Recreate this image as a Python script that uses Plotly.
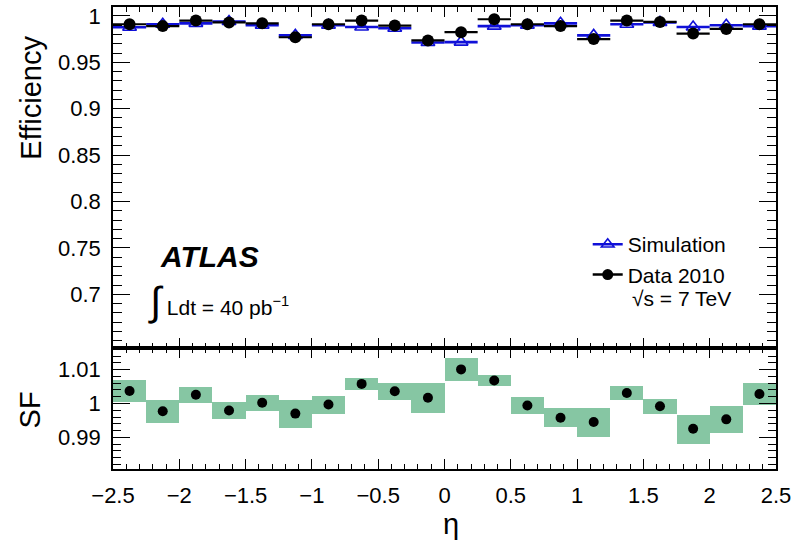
import plotly.graph_objects as go

eta_centers = [-2.375, -2.125, -1.875, -1.625, -1.375, -1.125, -0.875, -0.625, -0.375, -0.125,
               0.125, 0.375, 0.625, 0.875, 1.125, 1.375, 1.625, 1.875, 2.125, 2.375]
bin_halfwidth = [0.125] * 20

eff_data = [0.991, 0.989, 0.995, 0.993, 0.992, 0.977, 0.991, 0.995, 0.9896, 0.9736,
            0.9825, 0.9964, 0.991, 0.989, 0.975, 0.995, 0.9935, 0.981, 0.986, 0.991]
eff_sim = [0.9878, 0.991, 0.992, 0.994, 0.990, 0.979, 0.990, 0.988, 0.9867, 0.9714,
           0.9718, 0.989, 0.990, 0.992, 0.979, 0.991, 0.993, 0.988, 0.990, 0.989]

sf = [1.0037, 0.9977, 1.0026, 0.9979, 1.0002, 0.9970, 0.9997, 1.0058, 1.0036, 1.0017,
      1.0101, 1.0068, 0.9994, 0.9958, 0.9945, 1.0031, 0.9992, 0.9925, 0.9953, 1.0028]
sf_err = [0.0033, 0.0034, 0.0024, 0.0025, 0.0025, 0.0041, 0.0026, 0.0018, 0.0024, 0.0045,
          0.0034, 0.0016, 0.0025, 0.0028, 0.0043, 0.0021, 0.0023, 0.0043, 0.0039, 0.0032]

eff_tickvals = [0.7, 0.75, 0.8, 0.85, 0.9, 0.95, 1.0]
eff_ticktext = ["0.7", "0.75", "0.8", "0.85", "0.9", "0.95", "1"]
sf_tickvals = [0.99, 1.0, 1.01]
sf_ticktext = ["0.99", "1", "1.01"]
x_tickvals = [-2.5, -2, -1.5, -1, -0.5, 0, 0.5, 1, 1.5, 2, 2.5]
x_ticktext = ["\u22122.5", "\u22122", "\u22121.5", "\u22121", "\u22120.5", "0", "0.5", "1", "1.5", "2", "2.5"]

BLUE = "#1010d8"
GREEN = "#86c6a3"
FONT = "Liberation Sans"

fig = go.Figure()

# Simulation
fig.add_trace(go.Scatter(
    x=eta_centers, y=eff_sim, mode="markers", showlegend=False,
    marker=dict(symbol="triangle-up-open", size=12, color=BLUE, line=dict(width=1.6, color=BLUE)),
    error_x=dict(type="data", array=bin_halfwidth, width=0, thickness=2.6, color=BLUE),
    xaxis="x", yaxis="y"))
# Data
fig.add_trace(go.Scatter(
    x=eta_centers, y=eff_data, mode="markers", showlegend=False,
    marker=dict(symbol="circle", size=12, color="black"),
    error_x=dict(type="data", array=bin_halfwidth, width=0, thickness=2.2, color="black"),
    xaxis="x", yaxis="y"))

# legend entries
fig.add_trace(go.Scatter(x=[None], y=[None], mode="lines+markers", name="Simulation",
                         line=dict(color=BLUE, width=2.5),
                         marker=dict(symbol="triangle-up-open", size=11, color=BLUE, line=dict(width=1.6, color=BLUE)),
                         xaxis="x", yaxis="y"))
fig.add_trace(go.Scatter(x=[None], y=[None], mode="lines+markers", name="Data 2010",
                         line=dict(color="black", width=2.5),
                         marker=dict(symbol="circle", size=11, color="black"),
                         xaxis="x", yaxis="y"))

# SF bands
fig.add_trace(go.Bar(
    x=eta_centers, y=[2 * e for e in sf_err], base=[s - e for s, e in zip(sf, sf_err)],
    width=0.25, marker=dict(color=GREEN, line=dict(width=0)), showlegend=False,
    xaxis="x2", yaxis="y2"))
fig.add_trace(go.Scatter(
    x=eta_centers, y=sf, mode="markers", showlegend=False,
    marker=dict(symbol="circle", size=10, color="black"),
    xaxis="x2", yaxis="y2"))

split = 0.2624
axis_common = dict(showgrid=False, zeroline=False, showline=True, linecolor="black", linewidth=1.5,
                   mirror="ticks", ticks="inside", tickcolor="black",
                   tickfont=dict(family=FONT, size=22, color="black"))

fig.update_layout(
    width=796, height=548,
    margin=dict(l=113, r=20, t=4, b=79),
    paper_bgcolor="white", plot_bgcolor="white",
    bargap=0,
    xaxis=dict(axis_common, range=[-2.5, 2.5], anchor="y", domain=[0, 1],
               tickvals=x_tickvals, ticktext=x_ticktext, showticklabels=False,
               ticklen=10, tickwidth=1.2,
               minor=dict(dtick=0.1, tick0=0, ticklen=5, ticks="inside", tickcolor="black", tickwidth=1.2)),
    yaxis=dict(axis_common, range=[0.6424, 1.0096], anchor="x", domain=[split, 1],
               tickvals=eff_tickvals, ticktext=eff_ticktext, ticklen=17, tickwidth=1.2,
               ticklabelstandoff=6,
               minor=dict(dtick=0.01, tick0=0, ticklen=9, ticks="inside", tickcolor="black", tickwidth=1.2)),
    xaxis2=dict(axis_common, range=[-2.5, 2.5], anchor="y2", domain=[0, 1],
                tickvals=x_tickvals, ticktext=x_ticktext, ticklen=10, tickwidth=1.2,
                ticklabelstandoff=6,
                minor=dict(dtick=0.1, tick0=0, ticklen=5, ticks="inside", tickcolor="black", tickwidth=1.2)),
    yaxis2=dict(axis_common, range=[0.9806, 1.0165], anchor="x2", domain=[0, split],
                tickvals=sf_tickvals, ticktext=sf_ticktext, ticklen=17, tickwidth=1.2,
                ticklabelstandoff=6,
                minor=dict(dtick=0.002, tick0=0, ticklen=8, ticks="inside", tickcolor="black", tickwidth=1.2)),
    legend=dict(x=0.716, y=0.53, xanchor="left", yanchor="top", bgcolor="rgba(0,0,0,0)",
                font=dict(family=FONT, size=21, color="black"), itemwidth=30, tracegroupgap=0),
    showlegend=True,
)

ann_font = dict(family=FONT, size=21, color="black")
fig.add_annotation(text="Efficiency", xref="paper", yref="paper", x=-0.125, y=0.804,
                   textangle=-90, showarrow=False, font=dict(family=FONT, size=29, color="black"),
                   xanchor="center", yanchor="middle")
fig.add_annotation(text="SF", xref="paper", yref="paper", x=-0.125, y=0.127,
                   textangle=-90, showarrow=False, font=dict(family=FONT, size=29, color="black"),
                   xanchor="center", yanchor="middle")
fig.add_annotation(text="\u03b7", xref="paper", yref="paper", x=0.51, y=-0.12,
                   showarrow=False, font=dict(family=FONT, size=29, color="black"),
                   xanchor="center", yanchor="middle")
fig.add_annotation(text="<b><i>ATLAS</i></b>", xref="paper", yref="paper", x=0.068, y=0.46,
                   showarrow=False, font=dict(family=FONT, size=30, color="black"),
                   xanchor="left", yanchor="middle")
fig.add_annotation(text="<span style='font-size:40px'>\u222b</span> Ldt = 40 pb<sup>\u22121</sup>",
                   xref="paper", yref="paper", x=0.05, y=0.363,
                   showarrow=False, font=ann_font, xanchor="left", yanchor="middle")
fig.add_annotation(text="\u221as = 7 TeV", xref="paper", yref="paper", x=0.78, y=0.37,
                   showarrow=False, font=ann_font, xanchor="left", yanchor="middle")

fig.write_html("out.html", config={"displayModeBar": False},
               post_script="document.body.style.margin='0';document.body.style.padding='0';")
